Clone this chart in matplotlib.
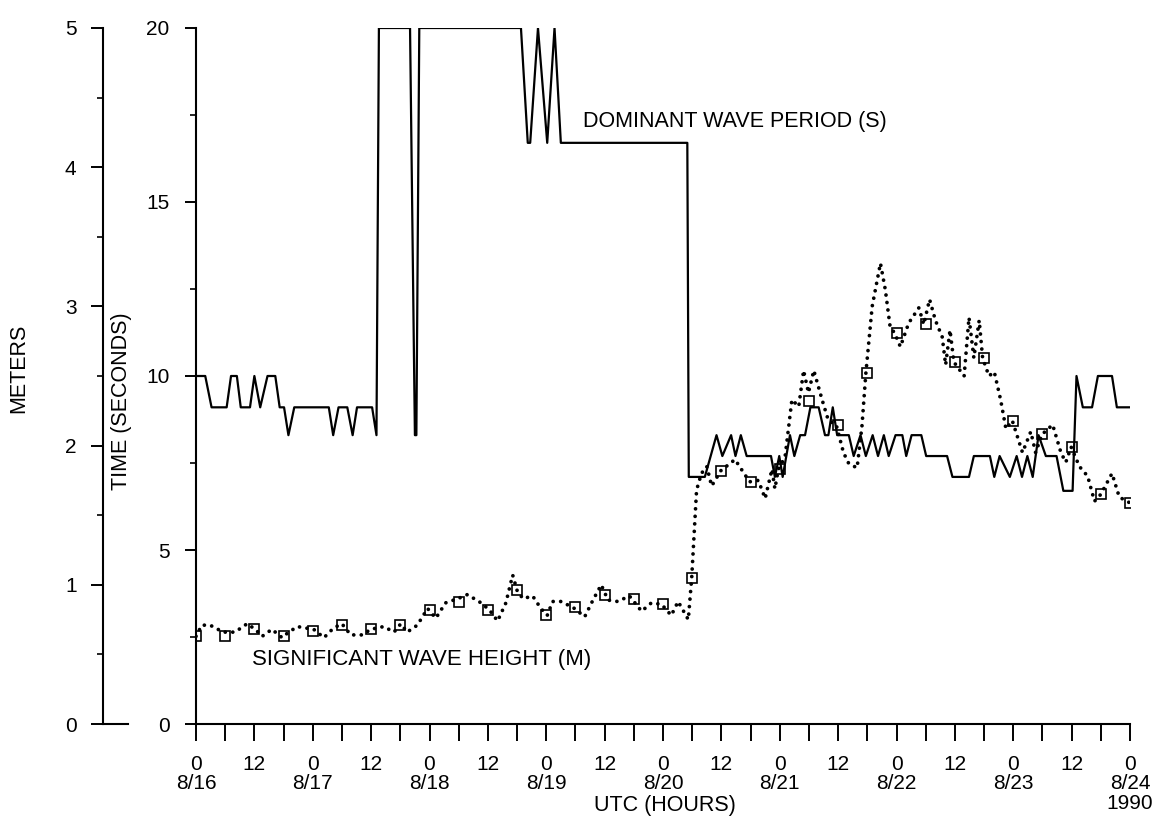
import matplotlib
matplotlib.use("Agg")
import matplotlib.pyplot as plt
from matplotlib.ticker import MultipleLocator

plt.rcParams['font.family'] = ['Liberation Sans', 'DejaVu Sans']

# dominant wave period (s), vertices: hours after 8/16 00 UTC
period_hours = [0, 1.9, 3.2, 6.3, 7.2, 8.4, 9.2, 11.1, 12.0, 13.2, 14.7, 16.3, 17.2, 18.1,
                19.0, 20.2, 27.3, 28.2, 29.3, 31.1, 32.2, 33.1, 36.2, 37.1, 37.6, 44.0,
                45.0, 45.3, 45.9, 66.8, 68.2, 68.7, 70.3, 72.2, 73.7, 75.0, 101.0, 101.3,
                104.6, 107.0, 108.2, 110.0, 110.9, 112.0, 113.2, 118.2, 119.0, 119.9, 120.6,
                122.1, 123.0, 124.2, 125.2, 126.3, 128.0, 129.3, 130.0, 130.9, 131.8, 134.2,
                135.2, 136.6, 137.7, 139.1, 140.2, 141.4, 142.4, 143.8, 145.2, 146.0, 147.1,
                149.1, 150.1, 154.4, 155.5, 158.9, 159.9, 163.2, 164.1, 165.2, 167.3, 168.7,
                169.8, 170.9, 172.0, 173.2, 174.7, 176.9, 178.3, 180.2, 181.0, 182.3, 184.2,
                185.4, 188.3, 189.3, 192.0]
period_sec = [10, 10, 9.1, 9.1, 10, 10, 9.1, 9.1, 10, 9.1, 10, 10, 9.1, 9.1,
              8.3, 9.1, 9.1, 8.3, 9.1, 9.1, 8.3, 9.1, 9.1, 8.3, 20, 20,
              8.3, 8.3, 20, 20, 16.7, 16.7, 20, 16.7, 20, 16.7, 16.7, 7.1,
              7.1, 8.3, 7.7, 8.3, 7.7, 8.3, 7.7, 7.7, 7.1, 7.7, 7.1,
              8.3, 7.7, 8.3, 8.3, 9.1, 9.1, 8.3, 8.3, 9.1, 8.3, 8.3,
              7.7, 8.3, 7.7, 8.3, 7.7, 8.3, 7.7, 8.3, 8.3, 7.7, 8.3,
              8.3, 7.7, 7.7, 7.1, 7.1, 7.7, 7.7, 7.1, 7.7, 7.1, 7.7,
              7.1, 7.7, 7.1, 8.3, 7.7, 7.7, 6.7, 6.7, 10, 9.1, 9.1,
              10, 10, 9.1, 9.1]

# significant wave height (m), dotted trace
height_hours = [0, 1.2, 2.9, 5.6, 8.0, 10.5, 12.2, 13.6, 15.6, 17.7, 18.7, 20.8, 24.2, 26.3,
                28.3, 30.0, 31.8, 34.2, 35.9, 38.6, 40.7, 42.1, 43.4, 45.5, 47.6, 49.3, 51.3,
                53.8, 55.8, 58.6, 60.3, 62.0, 63.7, 65.1, 66.0, 67.2, 69.2, 70.9, 72.2, 73.3,
                75.1, 77.8, 79.9, 81.6, 83.3, 84.7, 86.7, 89.1, 91.6, 93.6, 95.7, 97.7, 99.1,
                101.2, 101.9, 102.9, 103.9, 105.0, 106.0, 107.9, 110.8, 113.8, 115.6, 117.0,
                118.4, 119.0, 119.7, 121.1, 122.5, 123.9, 124.9, 125.9, 127.0, 128.7, 130.0,
                131.6, 133.1, 134.2, 135.9, 136.9, 137.7, 139.0, 140.7, 141.7, 142.7, 143.6,
                144.8, 146.5, 148.6, 149.6, 150.8, 152.0, 153.4, 154.1, 155.0, 155.8, 157.9,
                158.9, 159.9, 161.0, 161.7, 163.0, 164.1, 165.4, 166.5, 167.8, 169.9, 171.6,
                172.6, 173.9, 176.1, 177.8, 178.8, 179.9, 181.6, 183.3, 184.7, 186.0, 188.3,
                189.8, 191.9]
height_m = [0.63, 0.71, 0.71, 0.66, 0.66, 0.72, 0.68, 0.63, 0.68, 0.62, 0.65, 0.70, 0.68, 0.62,
            0.69, 0.72, 0.64, 0.64, 0.68, 0.70, 0.66, 0.72, 0.66, 0.71, 0.83, 0.76, 0.87,
            0.90, 0.93, 0.87, 0.82, 0.74, 0.87, 1.07, 0.96, 0.90, 0.92, 0.83, 0.78, 0.88,
            0.88, 0.83, 0.77, 0.89, 1.00, 0.89, 0.88, 0.92, 0.81, 0.87, 0.86, 0.78, 0.88,
            0.75, 1.05, 1.68, 1.80, 1.85, 1.71, 1.82, 1.90, 1.74, 1.75, 1.62,
            1.83, 1.69, 1.83, 1.92, 2.33, 2.28, 2.54, 2.38, 2.54, 2.33, 2.18,
            2.15, 1.95, 1.87, 1.84, 2.14, 2.52, 3.00, 3.31, 3.12, 2.85, 2.81,
            2.71, 2.88, 2.99, 2.87, 3.05, 2.90, 2.78, 2.58, 2.83, 2.60, 2.50,
            2.92, 2.63, 2.90, 2.63, 2.50, 2.53, 2.33, 2.12, 2.18, 1.95, 2.10,
            1.95, 2.08, 2.15, 1.95, 1.88, 1.99, 1.85, 1.78, 1.60, 1.65, 1.80,
            1.63, 1.59]

# square symbols every 6 h
marker_hours = list(range(0, 193, 6))
marker_m = [0.63, 0.63, 0.68, 0.63, 0.67, 0.71, 0.68, 0.71, 0.82, 0.88, 0.82, 0.96, 0.78,
            0.84, 0.93, 0.90, 0.86, 1.05, 1.82, 1.74, 1.83, 2.32, 2.15, 2.52, 2.81, 2.87,
            2.60, 2.63, 2.18, 2.08, 1.99, 1.65, 1.59]

tick_hours = list(range(0, 193, 12))
tick_labels = []
for h in tick_hours:
    if h % 24 == 0:
        tick_labels.append("0\n8/%d" % (16 + h // 24))
    else:
        tick_labels.append("12")
tick_labels[-1] = "0\n8/24\n1990"

W, H = 1162, 825
fig = plt.figure(figsize=(W / 100, H / 100), dpi=100)

# main axes (seconds)
ax = fig.add_axes([196 / W, 101 / H, 934 / W, 696 / H])
ax.plot(period_hours, period_sec, color='black', lw=1.6)
ax.set_xlim(0, 192)
ax.set_ylim(0, 20)
for s in ['top', 'right']:
    ax.spines[s].set_visible(False)
ax.spines['left'].set_linewidth(1.5)
ax.spines['bottom'].set_linewidth(1.5)
ax.set_xticks(tick_hours)
ax.set_xticklabels(tick_labels)
ax.xaxis.set_minor_locator(MultipleLocator(6))
ax.yaxis.set_major_locator(MultipleLocator(5))
ax.yaxis.set_minor_locator(MultipleLocator(2.5))
ax.tick_params(axis='x', which='both', direction='out', length=12, width=1.4,
               labelsize=15, pad=10)
ax.tick_params(axis='y', which='major', direction='out', length=8, width=1.4,
               labelsize=15, pad=11)
ax.tick_params(axis='y', which='minor', direction='out', length=4, width=1.2)
for t in ax.get_xticklabels():
    t.set_linespacing(1.05)

# wave height on its own scale (meters)
axh = ax.twinx()
axh.set_ylim(0, 5)
axh.axis('off')
axh.plot(height_hours, height_m, color='black', lw=2.7,
         linestyle=(0, (0.01, 2.0)), dash_capstyle='round')
axh.plot(marker_hours, marker_m, linestyle='none', marker='s', ms=7,
         mfc='none', mec='black', mew=1.2)

# separate meters scale on the far left
axm = fig.add_axes([103 / W, 101 / H, 25 / W, 696 / H])
axm.set_ylim(0, 5)
axm.set_xticks([])
for s in ['top', 'right']:
    axm.spines[s].set_visible(False)
axm.spines['left'].set_linewidth(1.5)
axm.spines['bottom'].set_linewidth(1.5)
axm.yaxis.set_major_locator(MultipleLocator(1))
axm.yaxis.set_minor_locator(MultipleLocator(0.5))
axm.tick_params(axis='y', which='major', direction='out', length=9, width=1.4,
                labelsize=15, pad=10)
axm.tick_params(axis='y', which='minor', direction='out', length=4, width=1.2)

ax.text(79.5, 17.3, "DOMINANT WAVE PERIOD (S)", fontsize=15.5, va='center', ha='left')
axh.text(11.5, 0.46, "SIGNIFICANT WAVE HEIGHT (M)", fontsize=16, va='center', ha='left')

fig.text(19 / W, 1 - 368 / H, "METERS", rotation=90, fontsize=15.5, ha='center', va='center')
fig.text(122 / W, 1 - 401 / H, "TIME (SECONDS)", rotation=90, fontsize=15.5,
         ha='center', va='center')
fig.text(665 / W, 1 - 806 / H, "UTC (HOURS)", fontsize=15.5, ha='center', va='center')

fig.savefig("out.png", dpi=100)
